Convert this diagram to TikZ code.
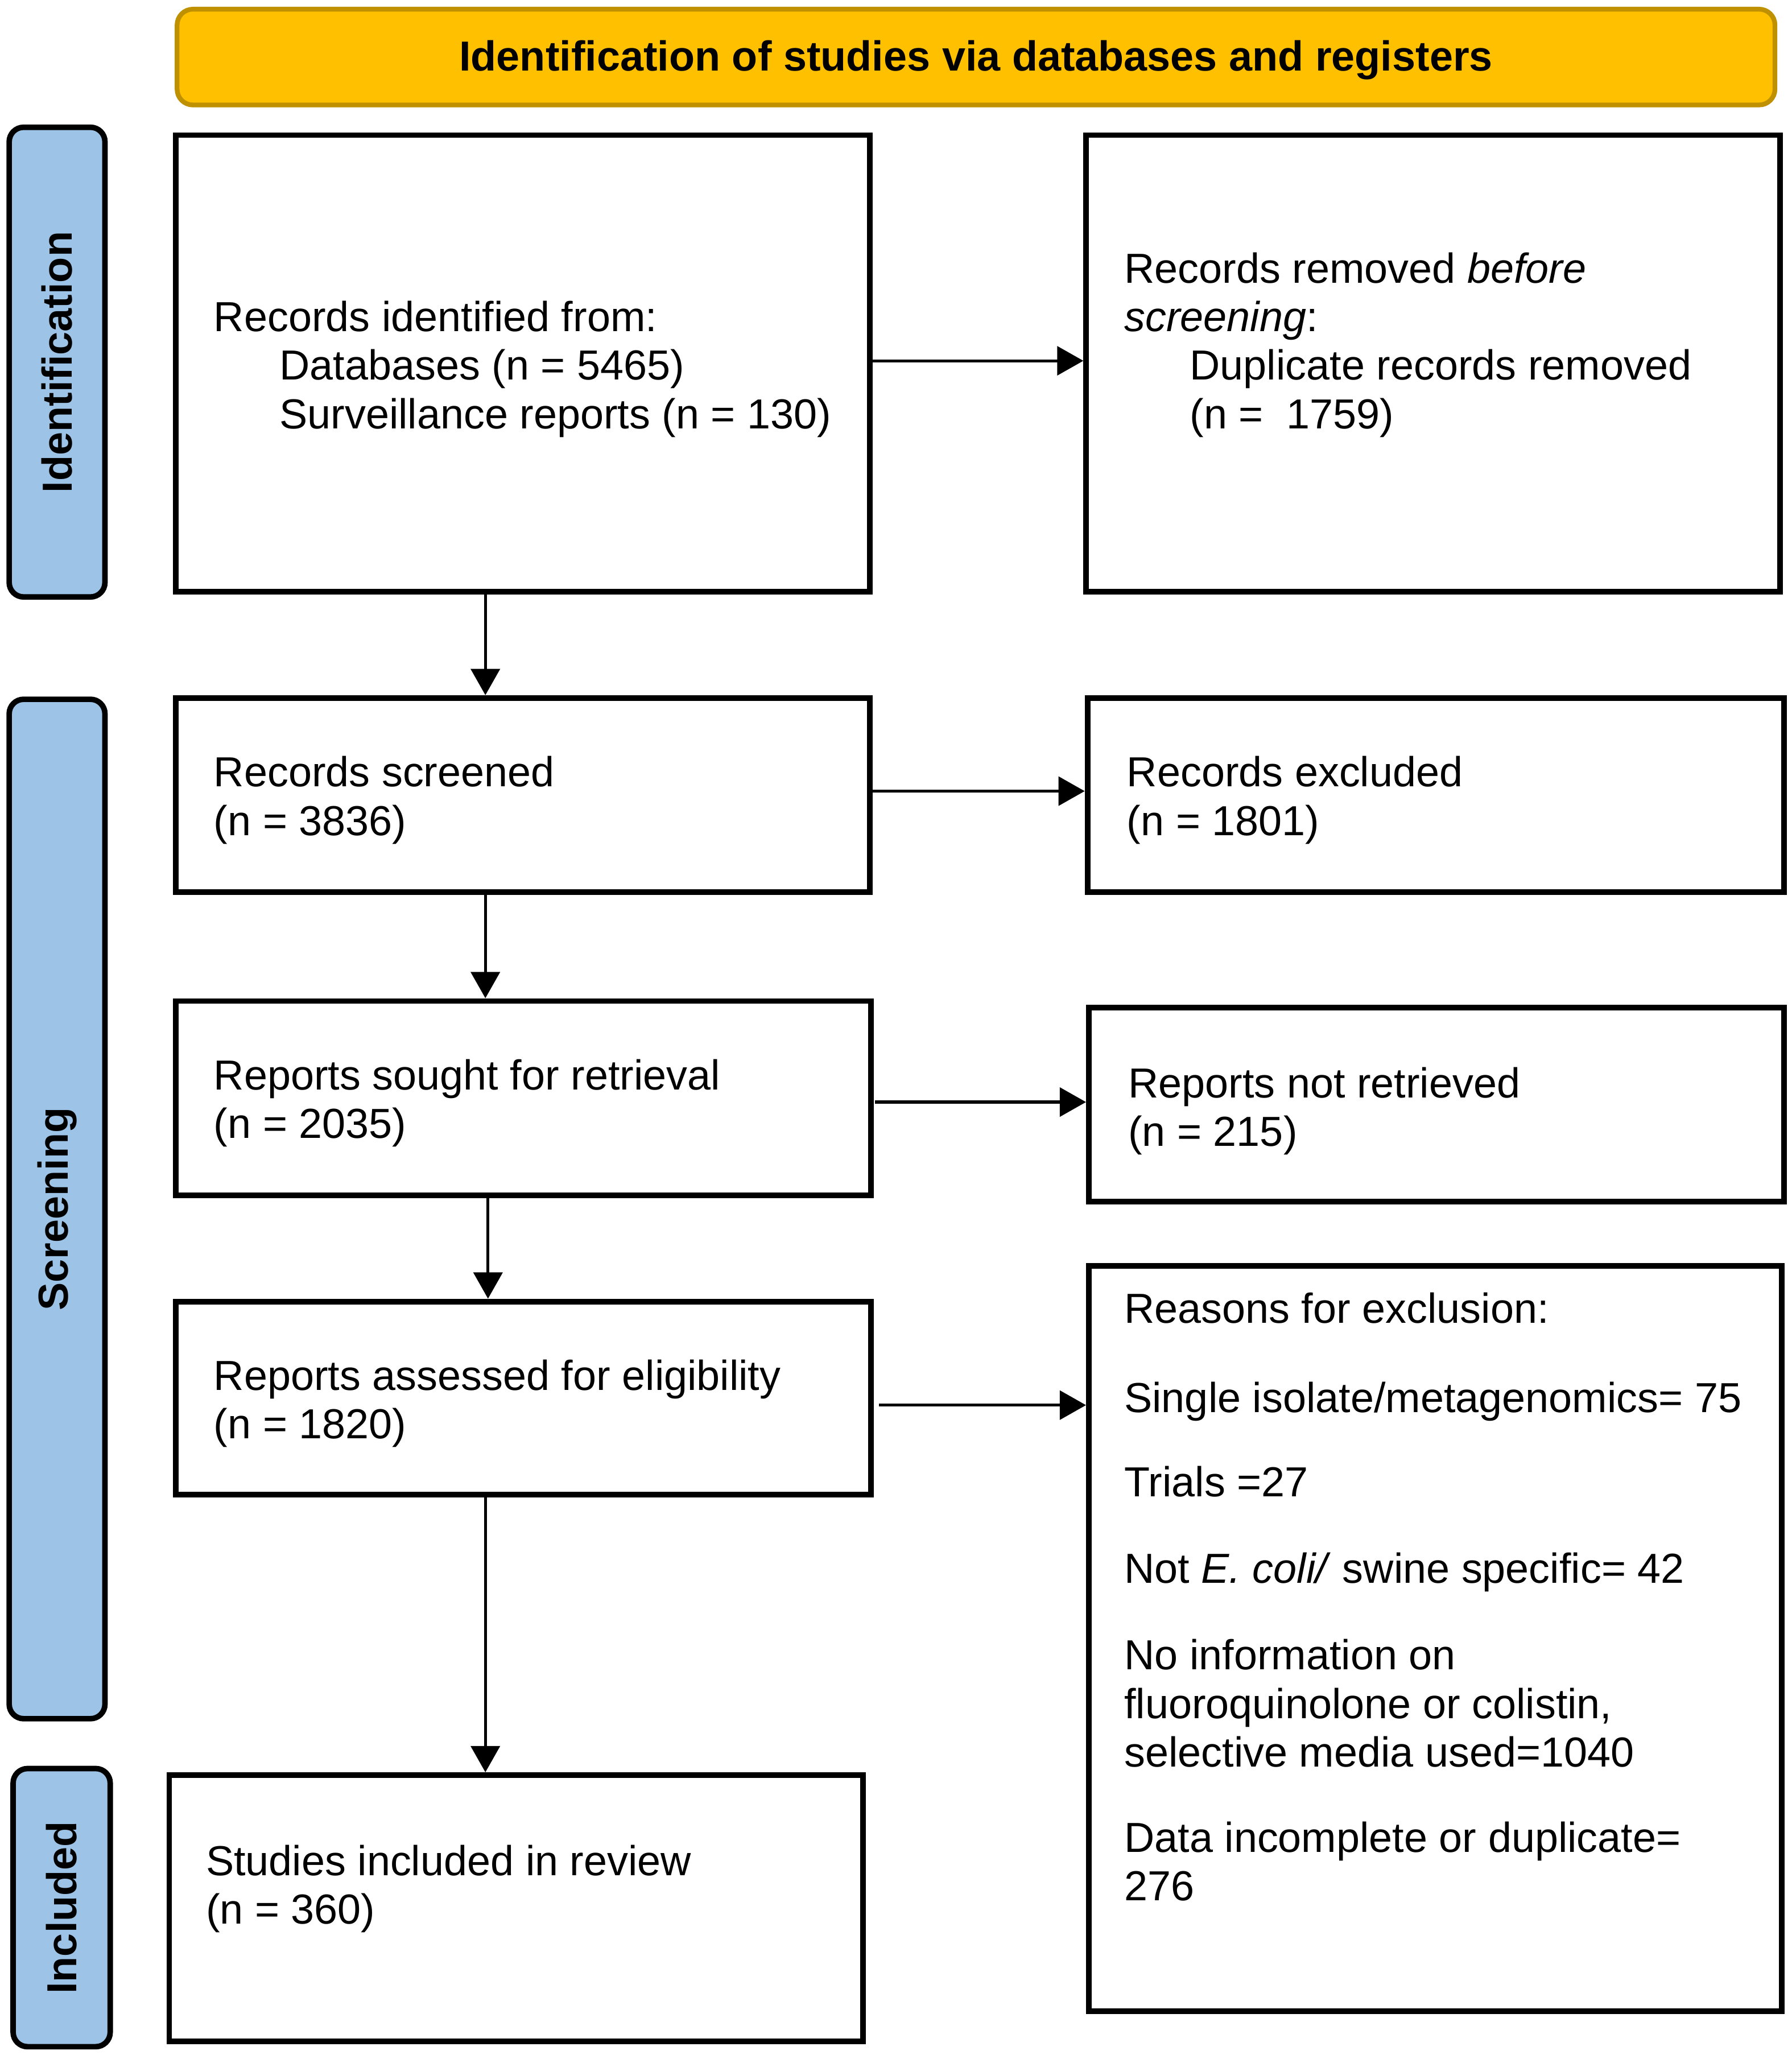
\documentclass[tikz,border=0pt]{standalone}
\usepackage{fontspec}
\setmainfont{Liberation Sans}
\usetikzlibrary{calc,arrows.meta}
\definecolor{hdrfill}{HTML}{FFC000}
\definecolor{hdrline}{HTML}{BF9000}
\definecolor{sidefill}{HTML}{9DC3E6}
\begin{document}
\frenchspacing
\begin{tikzpicture}[x=1pt,y=-1pt,
  box/.style={draw=black, line width=4.3pt, rectangle, inner sep=0pt},
  sidebox/.style={draw=black, line width=4.2pt, fill=sidefill, rounded corners=11pt, inner sep=0pt,
     font=\fontsize{32}{37}\bfseries\selectfont, rotate=90},
  hdr/.style={draw=hdrline, line width=3.6pt, fill=hdrfill, rounded corners=12pt, inner sep=0pt,
     font=\fontsize{32}{37}\bfseries\selectfont},
  txt/.style={anchor=north west, align=left, inner sep=0pt, font=\fontsize{32}{37}\selectfont},
  arr/.style={line width=2.3pt, -{Triangle[length=20pt,width=22pt]}}]
\useasboundingbox (0,0) rectangle (1366,1569.4);

% header
\node[hdr, minimum width=1218pt, minimum height=73pt] (hd) at (744,43.5) {};
\node[inner sep=0pt, font=\fontsize{32}{37}\bfseries\selectfont] (hdt) at ($(hd.center)+(0,2.5)$)
  {Identification of studies via databases and registers};

% side labels
\node[sidebox, minimum width=358pt, minimum height=73pt] (s1) at (43.5,276) {Identification};
\node[sidebox, minimum width=777pt, minimum height=73pt] (s2) at (43.5,921.5) {Screening};
\node[sidebox, minimum width=212pt, minimum height=74pt] (s3) at (47,1454) {Included};

% boxes
\node[box, minimum width=529pt, minimum height=348pt] (b1) at (398.5,277) {};
\node[box, minimum width=529pt, minimum height=348pt] (r1) at (1092.5,277) {};
\node[box, minimum width=529pt, minimum height=148pt] (b2) at (398.5,606) {};
\node[box, minimum width=531pt, minimum height=148pt] (r2) at (1094.5,606) {};
\node[box, minimum width=530pt, minimum height=148pt] (b3) at (399,837) {};
\node[box, minimum width=530pt, minimum height=148pt] (r3) at (1095,842) {};
\node[box, minimum width=530pt, minimum height=147pt] (b4) at (399,1065.5) {};
\node[box, minimum width=528pt, minimum height=568pt] (r4) at (1094,1249) {};
\node[box, minimum width=529pt, minimum height=203pt] (b5) at (393.5,1454.5) {};

% texts
\node[txt] (b1t) at ($(b1.north west)+(31,128.3)$)
  {Records identified from:\\\hspace*{50pt}Databases (n = 5465)\\\hspace*{50pt}Surveillance reports (n = 130)};
\node[txt] (r1t) at ($(r1.north west)+(31,91.4)$)
  {Records removed \textit{before}\\\textit{screening}:\\\hspace*{50pt}Duplicate records removed\\\hspace*{50pt}(n =\ \ 1759)};
\node[txt] (b2t) at ($(b2.north west)+(31,46.4)$) {Records screened\\(n = 3836)};
\node[txt] (r2t) at ($(r2.north west)+(32,46.4)$) {Records excluded\\(n = 1801)};
\node[txt] (b3t) at ($(b3.north west)+(31,46.4)$) {Reports sought for retrieval\\(n = 2035)};
\node[txt] (r3t) at ($(r3.north west)+(32,47.4)$) {Reports not retrieved\\(n = 215)};
\node[txt] (b4t) at ($(b4.north west)+(31,46.4)$) {Reports assessed for eligibility\\(n = 1820)};
\node[txt] (r4t) at ($(r4.north west)+(29,22.4)$)
  {Reasons for exclusion:\\[31pt]
   Single isolate/metagenomics= 75\\[27pt]
   Trials =27\\[29pt]
   Not \textit{E. coli/} swine specific= 42\\[29pt]
   No information on\\
   fluoroquinolone or colistin,\\
   selective media used=1040\\[28pt]
   Data incomplete or duplicate=\\
   276};
\node[txt] (b5t) at ($(b5.north west)+(30,55.3)$) {Studies included in review\\(n = 360)};

% horizontal arrows
\coordinate (h1) at ($(b1.east)+(0,-2)$);
\coordinate (h2) at ($(b2.east)+(0,-3)$);
\coordinate (h3) at ($(b3.east)+(1,3)$);
\coordinate (h4) at ($(b4.east)+(4,5.5)$);
\draw[arr] (h1) -- (h1 -| r1.west);
\draw[arr] (h2) -- (h2 -| r2.west);
\draw[arr] (h3) -- (h3 -| r3.west);
\draw[arr] (h4) -- (h4 -| r4.west);

% vertical arrows
\coordinate (v1) at ($(b1.south)+(-28.5,0)$);
\coordinate (v2) at ($(b2.south)+(-28.5,0)$);
\coordinate (v3) at ($(b3.south)+(-27,0)$);
\coordinate (v4) at ($(b4.south)+(-29,0)$);
\draw[arr] (v1) -- (v1 |- b2.north);
\draw[arr] (v2) -- (v2 |- b3.north);
\draw[arr] (v3) -- (v3 |- b4.north);
\draw[arr] (v4) -- (v4 |- b5.north);
\end{tikzpicture}
\end{document}
